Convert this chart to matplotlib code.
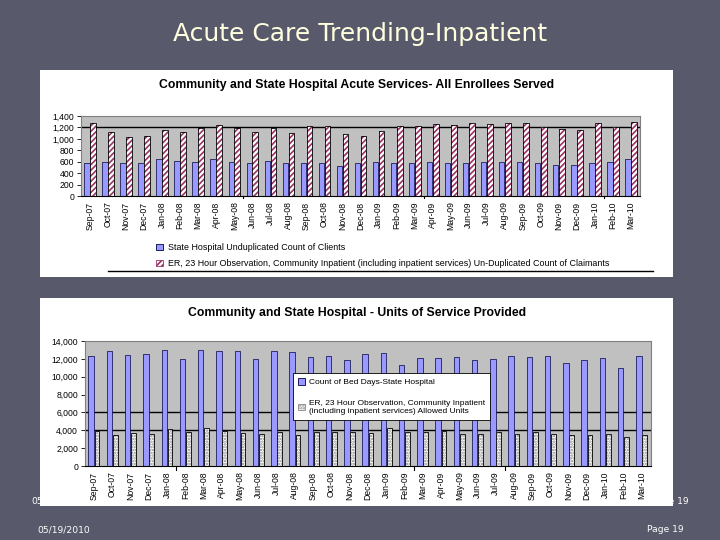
import numpy as np
import matplotlib
matplotlib.use("Agg")
import matplotlib.pyplot as plt
from matplotlib.patches import Patch
from matplotlib.lines import Line2D

months = ["Sep-07", "Oct-07", "Nov-07", "Dec-07", "Jan-08", "Feb-08", "Mar-08", "Apr-08",
          "May-08", "Jun-08", "Jul-08", "Aug-08", "Sep-08", "Oct-08", "Nov-08", "Dec-08",
          "Jan-09", "Feb-09", "Mar-09", "Apr-09", "May-09", "Jun-09", "Jul-09", "Aug-09",
          "Sep-09", "Oct-09", "Nov-09", "Dec-09", "Jan-10", "Feb-10", "Mar-10"]

# top chart: unduplicated counts
state_clients = [572, 601, 583, 583, 642, 618, 601, 642, 601, 583, 618, 572, 583, 583, 531, 572,
                 601, 572, 572, 601, 572, 572, 601, 601, 601, 583, 548, 548, 583, 601, 642]
er_claimants = [1272, 1126, 1038, 1056, 1161, 1126, 1184, 1248, 1184, 1126, 1184, 1108, 1231, 1231,
                1079, 1056, 1143, 1231, 1231, 1266, 1237, 1283, 1266, 1283, 1283, 1213, 1167,
                1161, 1283, 1213, 1289]

# bottom chart: units of service
bed_days = [12360, 12840, 12470, 12580, 13030, 12020, 13030, 12840, 12840, 11950, 12840, 12810,
            12250, 12290, 11910, 12510, 12700, 11360, 12140, 12140, 12250, 11840, 11950, 12360,
            12250, 12290, 11500, 11910, 12140, 10950, 12360]
er_units = [3870, 3430, 3650, 3610, 4170, 3800, 4210, 3870, 3650, 3570, 3760, 3430, 3760, 3830,
            3760, 3650, 4210, 3760, 3760, 3870, 3570, 3570, 3830, 3570, 3760, 3570, 3430, 3430,
            3570, 3200, 3460]

top_title = "Community and State Hospital Acute Services- All Enrollees Served"
bottom_title = "Community and State Hospital - Units of Service Provided"
top_labels = ["State Hospital Unduplicated Count of Clients",
              "ER, 23 Hour Observation, Community Inpatient (including inpatient services) Un-Duplicated Count of Claimants"]
bottom_labels = ["Count of Bed Days-State Hospital",
                 "ER, 23 Hour Observation, Community Inpatient\n(including inpatient services) Allowed Units"]

slide_bg = "#585a6b"
plot_bg = "#c0c0c0"
blue = "#9999ff"
W, H = 720, 540

plt.rcParams["font.family"] = ["Liberation Sans", "DejaVu Sans"]
plt.rcParams["hatch.linewidth"] = 1.2

fig = plt.figure(figsize=(7.2, 5.4), dpi=100, facecolor=slide_bg)


def px_box(x0, y0, x1, y1):
    # pixel rectangle (top-left origin) -> figure fraction
    return [x0 / W, 1 - y1 / H, (x1 - x0) / W, (y1 - y0) / H]


# footer text, one copy sits behind the chart box
fig.text(31 / W, 1 - 501 / H, "05/19/2010", color="white", fontsize=6.6,
         family="DejaVu Sans", va="center", zorder=0)
fig.text(689 / W, 1 - 501 / H, "Page 19", color="white", fontsize=6.6,
         family="DejaVu Sans", va="center", ha="right", zorder=0)
fig.text(37 / W, 1 - 530 / H, "05/19/2010", color="white", fontsize=6.6,
         family="DejaVu Sans", va="center")
fig.text(684 / W, 1 - 530 / H, "Page 19", color="white", fontsize=6.6,
         family="DejaVu Sans", va="center", ha="right")

fig.text(0.5, 1 - 34 / H, "Acute Care Trending-Inpatient", color="#ffffe0", fontsize=18,
         family="DejaVu Sans", ha="center", va="center")

# white chart frames
for box in [(40, 70, 673, 277), (40, 298, 673, 506)]:
    fr = fig.add_axes(px_box(*box), zorder=1)
    fr.set_facecolor("white")
    fr.set_xticks([])
    fr.set_yticks([])
    for s in fr.spines.values():
        s.set_visible(False)

x = np.arange(len(months))


def style_axes(ax, ymax, step, grid_vals):
    ax.set_facecolor(plot_bg)
    ax.set_xlim(-0.5, len(months) - 0.5)
    ax.set_ylim(0, ymax)
    ticks = np.arange(0, ymax + 1, step)
    ax.set_yticks(ticks)
    ax.set_yticklabels([f"{int(t):,}" for t in ticks], fontsize=6.2)
    ax.set_xticks(x)
    ax.set_xticklabels(months, rotation=90, fontsize=6.2)
    ax.tick_params(axis="x", length=0, pad=4)
    ax.tick_params(axis="y", length=3, width=0.6, pad=2)
    for g in grid_vals:
        ax.axhline(g, color="black", lw=1.0, zorder=1)
    for s in ax.spines.values():
        s.set_color("#808080")
        s.set_linewidth(0.8)
    ax.spines["bottom"].set_color("black")


# ---- top chart
ax1 = fig.add_axes(px_box(81, 116, 640, 196), zorder=2)
style_axes(ax1, 1400, 200, [1200])
ax1.bar(x - 0.17, state_clients, 0.3, color=blue, edgecolor="#000040", lw=0.5, zorder=2)
ax1.bar(x + 0.17, er_claimants, 0.32, color="white", edgecolor="#993366", hatch="//////",
        lw=0, zorder=2)
ax1.bar(x + 0.17, er_claimants, 0.32, fill=False, edgecolor="black", lw=0.6, zorder=3)
for b in [9, 19, 29]:
    ax1.plot([b - 0.5, b - 0.5], [0, -40], color="black", lw=0.8, clip_on=False)
fig.text(357 / W, 1 - 85 / H, top_title, fontsize=8.8, weight="bold", ha="center",
         va="center", zorder=3)

h1 = [Patch(facecolor=blue, edgecolor="#000040", lw=0.6),
      Patch(facecolor="white", edgecolor="#993366", hatch="//////", lw=0.6)]
fig.legend(h1, top_labels, loc="upper left", bbox_to_anchor=(148 / W, 1 - 235 / H),
           frameon=False, fontsize=6.4, handlelength=0.8, handleheight=0.8,
           handletextpad=0.6, labelspacing=0.8)
fig.add_artist(Line2D([108 / W, 653 / W], [1 - 271 / H, 1 - 271 / H], color="black",
                      lw=1, zorder=3))

# ---- bottom chart
ax2 = fig.add_axes(px_box(85, 341, 651, 466), zorder=2)
style_axes(ax2, 14000, 2000, [4000, 6000])
ax2.bar(x - 0.16, bed_days, 0.3, color=blue, edgecolor="#000040", lw=0.5, zorder=2)
ax2.bar(x + 0.16, er_units, 0.26, color="white", edgecolor="#888888", hatch="......",
        lw=0, zorder=2)
ax2.bar(x + 0.16, er_units, 0.26, fill=False, edgecolor="black", lw=0.6, zorder=3)
for b in [5, 18, 23]:
    ax2.plot([b - 0.5, b - 0.5], [0, -400], color="black", lw=0.8, clip_on=False)
fig.text(357 / W, 1 - 313 / H, bottom_title, fontsize=8.8, weight="bold", ha="center",
         va="center", zorder=3)

h2 = [Patch(facecolor=blue, edgecolor="#000040", lw=0.6),
      Patch(facecolor="white", edgecolor="#888888", hatch="......", lw=0.6)]
leg2 = ax2.legend(h2, bottom_labels, loc="upper left", bbox_to_anchor=(289 / W, 1 - 369 / H),
                  bbox_transform=fig.transFigure, fontsize=6, frameon=True, fancybox=False,
                  framealpha=1, edgecolor="black", handlelength=0.8, handleheight=0.8,
                  handletextpad=0.5, labelspacing=1.6, borderpad=0.6)
leg2.get_frame().set_linewidth(0.6)
leg2.set_zorder(5)

fig.savefig("out.png", dpi=100, facecolor=slide_bg)
